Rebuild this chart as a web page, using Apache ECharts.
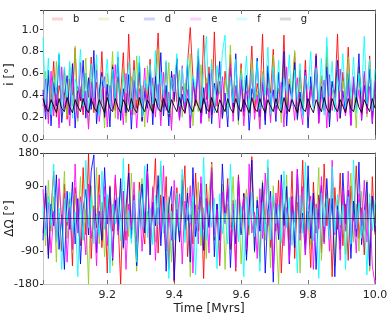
<!DOCTYPE html>
<html><head><meta charset="utf-8">
<script src="https://cdn.jsdelivr.net/npm/echarts@6/dist/echarts.min.js"></script>
<style>html,body{margin:0;padding:0;background:#fff}#c{width:390px;height:313px}</style>
</head><body><div id="c"></div>
<script>
// sampling grid of the time series (Myr)
const tStart = 9.008, tStep = 0.008, nPts = 125;
const seriesNames = ['b','c','d','e','f','g'];
const xTicks = [9.2, 9.4, 9.6, 9.8, 10.0];
const iTicks = [0.0, 0.2, 0.4, 0.6, 0.8, 1.0];
const dOmegaTicks = [-180, -90, 0, 90, 180];

// inclination i [deg]
const incB = [0.42,0.25,0.58,0.33,0.71,0.20,0.49,0.36,0.64,0.18,
0.55,0.40,0.83,0.27,0.46,0.22,0.60,0.38,0.75,0.24,
0.52,0.30,0.80,0.19,0.44,0.35,0.68,0.26,0.57,0.41,
0.79,0.21,0.96,0.32,0.72,0.28,0.61,0.17,0.47,0.37,
0.73,0.23,0.54,0.97,0.36,0.29,0.70,0.20,0.59,0.34,
0.74,0.25,0.48,0.39,0.70,1.02,0.56,0.31,0.81,0.26,
0.95,0.36,0.66,0.22,0.98,0.30,0.53,0.19,0.62,0.40,
0.77,0.27,0.49,0.33,0.69,0.21,0.58,0.38,0.85,0.24,
0.51,0.35,0.96,0.17,0.60,0.42,0.82,0.28,0.46,0.32,
0.95,0.23,0.55,0.37,0.79,0.20,0.63,0.30,0.72,0.26,
0.48,0.39,0.78,0.22,0.57,0.34,0.75,0.25,0.52,0.41,
0.96,0.19,0.61,0.33,0.84,0.27,0.50,0.36,0.66,0.23,
0.59,0.31,0.76,0.21,0.54];
const incC = [0.35,0.62,0.18,0.50,0.27,0.71,0.13,0.44,0.58,0.21,
0.66,0.30,0.85,0.16,0.48,0.39,0.74,0.12,0.55,0.33,
0.69,0.24,0.46,0.10,0.60,0.37,0.80,0.19,0.52,0.28,
0.64,0.15,0.42,0.57,0.22,0.76,0.31,0.49,0.11,0.67,
0.26,0.53,0.36,0.82,0.17,0.45,0.29,0.70,0.14,0.59,
0.34,0.63,0.20,0.51,0.40,0.78,0.12,0.47,0.25,0.68,
0.32,0.56,0.16,0.73,0.27,0.43,0.61,0.18,0.54,0.38,
0.86,0.21,0.49,0.13,0.65,0.30,0.57,0.23,0.72,0.35,
0.44,0.11,0.62,0.28,0.50,0.19,0.77,0.33,0.46,0.15,
0.68,0.26,0.55,0.41,0.81,0.17,0.52,0.29,0.60,0.12,
0.47,0.36,0.70,0.22,0.58,0.31,0.84,0.14,0.45,0.27,
0.63,0.19,0.53,0.38,0.75,0.24,0.49,0.10,0.66,0.32,
0.56,0.20,0.71,0.28,0.43];
const incD = [0.45,0.18,0.63,0.12,0.52,0.30,0.77,0.15,0.40,0.58,
0.22,0.69,0.10,0.48,0.35,0.72,0.19,0.56,0.27,0.81,
0.14,0.43,0.61,0.20,0.50,0.11,0.66,0.33,0.75,0.17,
0.46,0.24,0.59,0.09,0.53,0.38,0.70,0.16,0.44,0.28,
0.64,0.13,0.57,0.31,0.79,0.21,0.49,0.12,0.62,0.36,
0.73,0.18,0.41,0.26,0.68,0.10,0.55,0.34,0.76,0.15,
0.47,0.23,0.60,0.14,0.51,0.39,0.71,0.19,0.42,0.11,
0.65,0.29,0.78,0.17,0.54,0.25,0.58,0.08,0.46,0.37,
0.74,0.20,0.52,0.13,0.67,0.32,0.45,0.16,0.61,0.27,
0.80,0.12,0.50,0.35,0.70,0.18,0.43,0.22,0.63,0.10,
0.57,0.30,0.76,0.15,0.48,0.26,0.66,0.11,0.53,0.38,
0.72,0.19,0.44,0.24,0.60,0.13,0.55,0.33,0.78,0.17,
0.49,0.28,0.64,0.14,0.52];
const incE = [0.30,0.55,0.14,0.62,0.21,0.47,0.10,0.66,0.28,0.40,
0.12,0.58,0.35,0.19,0.70,0.25,0.44,0.09,0.52,0.31,
0.63,0.16,0.38,0.57,0.11,0.49,0.27,0.68,0.18,0.42,
0.13,0.60,0.33,0.22,0.54,0.10,0.46,0.29,0.65,0.15,
0.39,0.56,0.20,0.50,0.12,0.61,0.26,0.43,0.08,0.59,
0.34,0.17,0.67,0.23,0.45,0.11,0.53,0.30,0.62,0.14,
0.37,0.51,0.19,0.64,0.24,0.41,0.10,0.57,0.32,0.21,
0.69,0.16,0.48,0.27,0.55,0.12,0.44,0.36,0.60,0.18,
0.40,0.09,0.58,0.28,0.47,0.15,0.63,0.22,0.35,0.52,
0.11,0.66,0.25,0.43,0.17,0.56,0.31,0.13,0.61,0.20,
0.46,0.29,0.67,0.14,0.39,0.54,0.10,0.59,0.26,0.42,
0.16,0.64,0.33,0.21,0.50,0.12,0.57,0.28,0.45,0.18,
0.62,0.23,0.48,0.15,0.53];
const incF = [0.93,0.31,0.74,0.22,0.58,0.41,0.79,0.28,0.66,0.35,
0.71,0.19,0.55,0.44,0.82,0.30,0.60,0.25,0.69,0.38,
0.77,0.21,0.57,0.47,0.73,0.29,0.64,0.33,0.80,0.24,
0.59,0.42,0.70,0.27,0.63,0.36,0.76,0.20,0.54,0.45,
0.68,0.32,0.81,0.26,0.61,0.39,0.72,0.23,0.56,0.43,
0.78,0.30,0.65,0.34,0.74,0.22,0.58,0.46,0.83,0.28,
0.62,0.94,0.37,0.70,0.25,0.67,0.41,0.79,0.95,0.21,
0.57,0.33,0.73,0.29,0.60,0.44,0.76,0.24,0.64,0.35,
0.71,0.27,0.59,0.40,0.84,0.23,0.66,0.31,0.72,0.26,
0.55,0.42,0.77,0.30,0.63,0.36,0.69,0.20,0.58,0.45,
0.80,0.28,0.65,0.34,0.74,0.22,0.93,0.39,0.71,0.25,
0.56,0.43,0.78,0.29,0.62,0.37,0.75,0.24,0.60,0.41,
0.94,0.32,0.73,0.26,0.64];
const incG = [0.37,0.29,0.25,0.36,0.30,0.24,0.37,0.28,0.25,0.38,
0.29,0.24,0.36,0.30,0.25,0.37,0.28,0.24,0.37,0.29,
0.25,0.36,0.30,0.24,0.38,0.28,0.25,0.37,0.29,0.24,
0.36,0.30,0.25,0.37,0.28,0.24,0.38,0.29,0.25,0.36,
0.30,0.24,0.37,0.28,0.25,0.37,0.29,0.24,0.36,0.30,
0.25,0.38,0.28,0.24,0.37,0.29,0.25,0.36,0.30,0.24,
0.37,0.28,0.25,0.38,0.29,0.24,0.36,0.30,0.25,0.37,
0.28,0.24,0.37,0.29,0.25,0.36,0.30,0.24,0.38,0.28,
0.25,0.37,0.29,0.24,0.36,0.30,0.25,0.37,0.28,0.24,
0.38,0.29,0.25,0.36,0.30,0.24,0.37,0.28,0.25,0.37,
0.29,0.24,0.36,0.30,0.25,0.38,0.28,0.24,0.37,0.29,
0.25,0.36,0.30,0.24,0.37,0.28,0.25,0.38,0.29,0.24,
0.36,0.30,0.25,0.37,0.28];

// node difference ΔΩ [deg]
const dOmB = [-40,70,-100,25,130,-65,15,-90,95,-20,
55,-130,85,-10,-75,140,-45,178,-110,35,
-25,120,-80,60,-150,90,-35,110,5,-180,
75,-60,150,-30,45,-115,100,-15,-70,135,
-50,20,165,-95,65,-25,115,-140,40,-175,
85,-55,30,145,-105,10,-70,125,-35,60,
-165,95,-20,155,-60,40,-130,80,-10,110,
-85,50,-145,120,-40,70,-100,25,170,-55,
35,-120,90,-15,140,-80,60,-35,105,-150,
15,80,-60,130,-110,45,-25,160,-70,20,
-135,100,-40,65,-95,150,-20,55,-160,85,
-30,125,-75,40,-115,90,-5,145,-55,30,
-100,70,-140,115,-45];
const dOmC = [20,-75,105,-35,60,-120,85,-10,130,-55,
40,-95,70,-20,115,-60,25,-180,90,-30,
140,-70,45,-105,15,80,-130,55,-25,100,
-85,35,-50,125,-15,-145,65,110,-40,20,
-100,90,-65,30,145,-20,-90,60,-120,75,
10,-55,120,-35,85,-160,45,-15,100,-75,
30,-110,70,150,-50,15,-85,95,-140,40,
-25,115,-70,55,-125,20,80,-45,135,-95,
60,-15,105,-60,25,-135,90,-30,-180,70,
-50,120,-85,35,-10,95,-150,65,-40,110,
-75,45,-20,140,-115,30,70,-55,100,-130,
50,-25,85,-100,15,125,-65,40,-90,75,
-35,105,-145,55,-20];
const dOmD = [-60,90,-110,40,-20,120,-85,10,-140,75,
-30,100,-70,55,-125,25,80,-45,130,175,
-95,20,-60,140,-15,85,-115,50,-35,110,
-80,30,125,-55,65,-130,15,95,-40,150,
-100,45,-20,118,-75,60,-145,35,88,-170,
25,-65,105,-30,70,-120,140,-50,12,96,
-88,55,-25,128,-105,40,-60,150,-10,82,
-135,22,-70,112,-45,68,-115,30,160,-90,
50,-35,98,-150,18,75,-175,42,-58,120,
-20,88,-125,60,-80,135,-40,15,-100,145,
-55,70,-140,28,92,-65,110,-30,55,-160,
35,-85,125,-15,78,-110,48,-50,155,-72,
20,100,-130,62,-38];
const dOmE = [80,-30,45,-95,20,-60,110,-15,70,-120,
30,-85,150,-40,60,-10,-100,95,-55,25,
-130,65,-20,88,-75,35,-110,120,-45,10,
75,-140,40,-25,100,-65,55,-90,20,130,
-50,85,-115,30,-35,145,-80,15,-60,105,
-20,68,-125,48,-5,90,-150,38,-70,115,
-30,55,-95,140,-45,25,-120,72,-15,92,
-65,40,-135,110,-25,60,-85,150,-40,18,
-110,82,-55,125,-20,45,-145,70,-35,98,
-75,30,-120,58,-10,135,-60,88,-100,22,
62,-140,40,-28,115,-70,50,-90,160,-45,
25,-115,78,-35,130,-55,15,-95,68,-20,
105,-65,42,-130,-180];
const dOmF = [35,-48,62,-20,150,-65,28,-140,55,-10,
72,-38,18,-160,44,-55,160,-25,60,-70,
12,-45,130,-30,66,-150,40,-15,58,-62,
165,-35,22,-68,50,-120,75,-28,145,-52,
30,-72,64,-18,158,-40,48,-165,20,-58,
70,-33,135,-66,42,-12,62,-155,26,-48,
168,-60,38,-24,56,-138,68,-42,15,-70,
150,-30,52,-64,34,-160,60,-20,72,-50,
28,-145,45,-36,162,-58,66,-14,40,-68,
130,-26,58,-74,20,-150,64,-40,155,-32,
48,-62,30,-165,70,-22,54,-56,142,-38,
66,-18,36,-140,60,-70,160,-28,44,-54,
24,-155,68,-34,50];
const dOmG = [0,0,0,0,0,0,0,0,0,0,0,0,0,0,0,0,0,0,0,0,0,0,0,0,0,
0,0,0,0,0,0,0,0,0,0,0,0,0,0,0,0,0,0,0,0,0,0,0,0,0,
0,0,0,0,0,0,0,0,0,0,0,0,0,0,0,0,0,0,0,0,0,0,0,0,0,
0,0,0,0,0,0,0,0,0,0,0,0,0,0,0,0,0,0,0,0,0,0,0,0,0,
0,0,0,0,0,0,0,0,0,0,0,0,0,0,0,0,0,0,0,0,0,0,0,0,0];

const time = [];
for (let k = 0; k < nPts; k++) time.push(Math.round((tStart + k * tStep) * 1000) / 1000);

const colors = ['#ff0000', '#8fcc20', '#0000ff', '#ff00ff', '#00ffff', '#000000'];
const legendColors = ['rgba(255,0,0,0.18)','rgba(143,204,32,0.18)','rgba(0,0,255,0.18)','rgba(255,0,255,0.18)','rgba(0,255,255,0.18)','rgba(0,0,0,0.15)'];
const incAll = [incB, incC, incD, incE, incF, incG];
const dOmAll = [dOmB, dOmC, dOmD, dOmE, dOmF, dOmG];

const FONT = 'DejaVu Sans';
const near = (v, list) => list.some(t => Math.abs(v - t) < 1e-6);

function mkSeries(arr, k, gi) {
  const isG = k === 5;
  return {
    type: 'line', name: seriesNames[k],
    xAxisIndex: gi, yAxisIndex: gi,
    data: time.map((t, j) => [t, arr[j]]),
    showSymbol: false, symbol: 'none', animation: false, silent: true,
    lineStyle: { color: colors[k], width: 1, opacity: isG ? (gi === 1 ? 0.65 : 0.9) : 0.85 },
    itemStyle: { color: colors[k] },
    z: 2 + k
  };
}
const series = [];
incAll.forEach((a, k) => series.push(mkSeries(a, k, 0)));
dOmAll.forEach((a, k) => series.push(mkSeries(a, k, 1)));

function xAx(gi, pos, labels) {
  return {
    type: 'value', gridIndex: gi, position: pos, min: tStart, max: 10, splitNumber: 5,
    axisLine: { show: true, onZero: false, lineStyle: { color: pos === 'bottom' ? '#c8c8c8' : '#444', width: 1 } },
    axisTick: { show: true, inside: true, length: 4, lineStyle: { color: '#777' } },
    axisLabel: { show: labels, color: '#222', fontFamily: FONT, fontSize: 11, margin: 6,
      formatter: v => near(v, xTicks) ? v.toFixed(1) : '' },
    splitLine: { show: false }
  };
}
function yAx(gi, pos, min, max, interval, ticks, fmt, name) {
  return {
    type: 'value', gridIndex: gi, position: pos, min: min, max: max, interval: interval,
    axisLine: { show: true, onZero: false, lineStyle: { color: pos === 'left' ? '#c8c8c8' : '#444', width: 1 } },
    axisTick: { show: pos === 'left', inside: false, length: 3, lineStyle: { color: '#333' } },
    axisLabel: { show: pos === 'left', color: '#222', fontFamily: FONT, fontSize: 11, margin: 4,
      formatter: v => near(v, ticks) ? fmt(v) : '' },
    splitLine: { show: false },
    name: pos === 'left' ? name : '', nameLocation: 'middle', nameGap: 27, nameRotate: 90,
    nameMoveOverlap: false,
    nameTextStyle: { color: '#222', fontFamily: FONT, fontSize: 12 }
  };
}

const x1 = xAx(1, 'bottom', true);
x1.name = 'Time [Myrs]'; x1.nameLocation = 'middle'; x1.nameGap = 19; x1.nameMoveOverlap = false;
x1.nameTextStyle = { color: '#222', fontFamily: FONT, fontSize: 12 };

const option = {
  backgroundColor: '#fff',
  animation: false,
  grid: [
    { left: 43, right: 15, top: 10, height: 129, containLabel: false, outerBoundsMode: 'none' },
    { left: 43, right: 15, top: 153, height: 131, containLabel: false, outerBoundsMode: 'none' }
  ],
  legend: {
    left: 52, top: 14, padding: 0, icon: 'rect', itemWidth: 11, itemHeight: 3, itemGap: 19,
    textStyle: { color: '#222', fontFamily: FONT, fontSize: 10, padding: [0, 0, 0, 5] },
    data: seriesNames.map((n, k) => ({ name: n, itemStyle: { color: legendColors[k] } }))
  },
  xAxis: [ xAx(0, 'bottom', false), x1, xAx(0, 'top', false), xAx(1, 'top', false) ],
  yAxis: [
    yAx(0, 'left', 0, 1.18, 0.2, iTicks, v => v.toFixed(1), 'i [°]'),
    yAx(1, 'left', -180, 180, 90, dOmegaTicks, v => String(v), 'ΔΩ [°]'),
    yAx(0, 'right', 0, 1.18, 0.2, iTicks, v => v.toFixed(1), ''),
    yAx(1, 'right', -180, 180, 90, dOmegaTicks, v => String(v), '')
  ],
  series: series
};
const chart = echarts.init(document.getElementById('c'), null, { renderer: 'canvas' });
chart.setOption(option);
</script></body></html>
